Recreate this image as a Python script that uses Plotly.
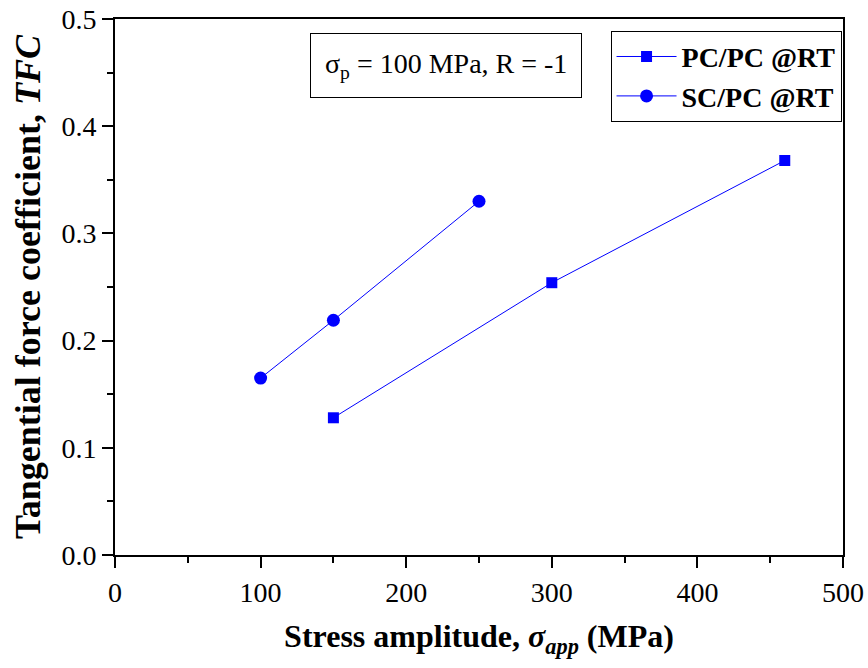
import plotly.graph_objects as go

pc_x = [150, 300, 460]
pc_y = [0.128, 0.254, 0.368]
sc_x = [100, 150, 250]
sc_y = [0.165, 0.219, 0.330]

font = "Liberation Serif"
blue = "#0000FF"

fig = go.Figure()
fig.add_trace(go.Scatter(x=pc_x, y=pc_y, mode="lines+markers", name="<b>PC/PC @RT</b>",
                         line=dict(color=blue, width=1),
                         marker=dict(symbol="square", size=11, color=blue)))
fig.add_trace(go.Scatter(x=sc_x, y=sc_y, mode="lines+markers", name="<b>SC/PC @RT</b>",
                         line=dict(color=blue, width=1),
                         marker=dict(symbol="circle", size=13, color=blue)))

axis_common = dict(showline=True, linecolor="black", linewidth=2, mirror=True,
                   ticks="outside", ticklen=11, tickwidth=1.5, tickcolor="black",
                   showgrid=False, zeroline=False, automargin=False,
                   tickfont=dict(family=font, size=28, color="black"))

fig.update_xaxes(range=[0, 500], dtick=100,
                 minor=dict(ticks="outside", ticklen=6, tickwidth=1.5, tickcolor="black", dtick=50),
                 title=dict(text="<b>Stress amplitude, <i>σ<sub>app</sub></i> (MPa)</b>",
                            font=dict(family=font, size=32, color="black"), standoff=18),
                 **axis_common)
fig.update_yaxes(range=[0, 0.5], dtick=0.1, tickformat=".1f",
                 minor=dict(ticks="outside", ticklen=6, tickwidth=1.5, tickcolor="black", dtick=0.05),
                 title=dict(text="<b>Tangential force coefficient, <i>TFC</i></b>",
                            font=dict(family=font, size=36, color="black"), standoff=10),
                 **axis_common)

fig.add_annotation(xref="paper", yref="paper", x=0.268, y=0.974, xanchor="left", yanchor="top",
                   text="σ<sub>p</sub> = 100 MPa, R = -1", showarrow=False,
                   font=dict(family=font, size=28, color="black"),
                   bordercolor="black", borderwidth=1, borderpad=14, bgcolor="white")

fig.update_layout(
    width=868, height=668,
    font=dict(family=font, color="black"),
    margin=dict(l=115, r=25, t=19, b=113),
    plot_bgcolor="white", paper_bgcolor="white",
    showlegend=True,
    legend=dict(x=0.998, y=0.978, xanchor="right", yanchor="top",
                bordercolor="black", borderwidth=1, bgcolor="white",
                font=dict(family=font, size=28, color="black"),
                itemwidth=60, tracegroupgap=0),
)

fig.write_html("out.html")
